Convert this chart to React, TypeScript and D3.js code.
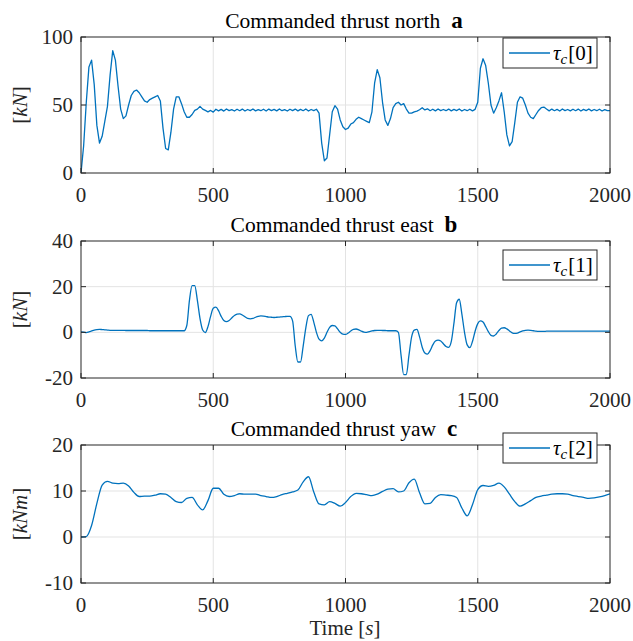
import React from 'react';
import * as d3 from 'd3';

// ---------- data ----------
const TIME_MAX = 2000;
const X_TICKS = [0, 500, 1000, 1500, 2000];

// Commanded thrust north [kN], sampled every 10 s (rows of 100 s)
const NORTH_STEP = 10;
const NORTH = [
  0, 20, 52, 78, 83, 65, 35, 22, 27, 38,
  49, 72, 90, 83, 64, 47, 40, 42, 50, 57,
  60, 61, 59, 56, 53, 52, 54, 55, 56, 57,
  53, 33, 18, 17, 30, 47, 56, 56, 51, 45,
  41, 41, 43, 46, 47, 49, 47, 46, 45, 46,
  44.8, 46.9, 45.7, 46.8, 45.5, 47.1, 45.9, 46.6, 45.6, 46.9,
  45.8, 47.0, 45.6, 46.7, 45.9, 47.1, 45.7, 46.6, 45.8, 46.9,
  45.6, 47.0, 45.9, 46.8, 45.7, 47.1, 45.8, 46.6, 45.6, 46.9,
  45.9, 47.0, 45.7, 46.8, 45.8, 47.1, 45.6, 46.7, 45.9, 46.9,
  44, 22, 9, 11, 28, 45, 49.5, 47, 39, 34,
  32, 33, 36, 37, 39.5, 41, 40, 39, 38, 37,
  45, 66, 76, 70, 52, 39, 35, 40, 48, 51,
  52, 50, 51, 47, 44, 44, 45, 45.5, 46.5, 48,
  46.4, 47.2, 45.8, 46.9, 45.7, 47.1, 45.9, 46.7, 45.8, 47.0,
  45.7, 46.8, 45.9, 47.1, 45.6, 46.7, 45.8, 46.9, 45.7, 46.8,
  52, 77, 84, 79, 66, 50, 44, 48, 53, 59,
  45, 28, 20, 23, 37, 52, 56, 55, 50, 44,
  41, 40, 43, 46, 48, 48.5, 47, 45.7, 47.0, 45.8,
  46.8, 45.6, 47.1, 45.9, 46.7, 45.7, 46.9, 45.8, 47.0, 45.6,
  46.8, 45.9, 47.1, 45.7, 46.7, 45.8, 46.9, 45.6, 46.6, 45.8,
  45.8,
];

// Commanded thrust east [kN], sampled every 10 s
const EAST_STEP = 10;
const EAST = [
  0.2, 0.1, -0.1, 0.2, 0.6, 1.0, 1.2, 1.3, 1.2, 1.1,
  1.0, 0.9, 0.9, 0.9, 0.9, 0.9, 0.9, 0.8, 0.8, 0.8,
  0.8, 0.8, 0.8, 0.8, 0.8, 0.8, 0.7, 0.7, 0.7, 0.7,
  0.7, 0.7, 0.7, 0.7, 0.7, 0.7, 0.7, 0.7, 0.7, 0.7,
  3, 14, 20.5, 20.5, 14, 6, 1, -0.1, 2.5, 7,
  10.5, 11, 9.5, 7, 5.2, 4.7, 5.2, 6.3, 7.4, 8,
  8.1, 7.6, 6.8, 6.1, 5.9, 6.1, 6.6, 7.0, 7.2, 7.1,
  6.9, 6.7, 6.6, 6.5, 6.6, 6.7, 6.8, 6.9, 7.0, 7.0,
  5, -6, -13, -13, -6, 2, 7.3, 7.9, 4.5, 0,
  -3, -3.7, -2.5, 0, 2.2, 3.0, 2.8, 1.5, 0, -0.8,
  -0.9, -0.3, 0.6, 1.3, 1.45, 1.1, 0.5, 0.1, 0, 0.3,
  0.6, 0.8, 0.9, 0.9, 0.8, 0.8, 0.7, 0.7, 0.7, 0.7,
  0, -10, -18.5, -18.5, -10, -2, 1.0, 1.3, -2, -6.5,
  -9, -9.5, -8, -5.5, -3.8, -3.4, -3.8, -5, -6.2, -6.6,
  -4, 4, 13, 14.5, 8, 0, -5.5, -6.7, -4, 0.5,
  3.8, 5.0, 4.5, 2.5, 0.3, -1.3, -1.6, -0.7, 0.8, 1.8,
  2.0, 1.5, 0.6, -0.2, -0.45, -0.3, 0.2, 0.6, 0.9, 1.0,
  0.9, 0.7, 0.5, 0.4, 0.4, 0.4, 0.5, 0.5, 0.5, 0.5,
  0.5, 0.5, 0.5, 0.5, 0.5, 0.5, 0.5, 0.5, 0.5, 0.5,
  0.5, 0.5, 0.5, 0.5, 0.5, 0.5, 0.5, 0.5, 0.5, 0.5,
  0.5,
];

// Commanded thrust yaw [kNm], sampled every 20 s
const YAW_STEP = 20;
const YAW = [
  0, 0.1, 2.5, 7.3, 11.3,
  12.1, 11.7, 11.6, 11.7, 11.1,
  9.7, 8.8, 8.9, 8.9, 9.1,
  9.4, 9.3, 8.6, 7.7, 7.5,
  8.4, 8.6, 7.0, 5.9, 7.9,
  10.6, 10.6, 9.3, 8.8, 9.0,
  9.4, 9.3, 9.3, 9.3, 9.0,
  8.8, 8.6, 8.8, 9.2, 9.5,
  9.8, 10.2, 12.0, 13.1, 9.8,
  7.2, 7.0, 7.7, 7.3, 6.7,
  7.5, 8.8, 9.5, 9.4, 9.2,
  9.0, 9.3, 9.9, 10.4, 10.5,
  9.8, 10.0, 11.8, 12.6, 9.6,
  7.2, 7.3, 8.6, 9.2, 9.1,
  9.0, 8.6, 6.3, 4.6, 7.0,
  10.3, 11.2, 11.0, 11.2, 11.7,
  10.9, 9.3, 7.7, 6.7, 7.2,
  7.9, 8.6, 8.9, 9.1, 9.3,
  9.4, 9.4, 9.3, 9.0, 8.8,
  8.6, 8.4, 8.5, 8.7, 9.0,
  9.4,
];

const NORTH_TICKS = [0, 50, 100];
const EAST_TICKS = [-20, 0, 20, 40];
const YAW_TICKS = [-10, 0, 10, 20];

const TITLES = ['Commanded thrust north', 'Commanded thrust east', 'Commanded thrust yaw'];
const LETTERS = ['a', 'b', 'c'];
const LEGEND_INDEX = ['0', '1', '2'];
const UNITS = ['kN', 'kN', 'kNm'];

// ---------- layout ----------
const W = 633;
const H = 641;
const LEFT = 81;
const RIGHT = 610;
const FONT = "'Liberation Serif', 'Times New Roman', serif";
const FS = 21;
const TEXT = '#262626';
const LINE = '#0072BD';
const GRID = '#e3e3e3';

const panels = [
  { values: NORTH, step: NORTH_STEP, ticks: NORTH_TICKS, top: 37, bottom: 173, legendTop: 38, curve: d3.curveLinear },
  { values: EAST, step: EAST_STEP, ticks: EAST_TICKS, top: 241, bottom: 378, legendTop: 250, curve: d3.curveMonotoneX },
  { values: YAW, step: YAW_STEP, ticks: YAW_TICKS, top: 445, bottom: 583, legendTop: 433, curve: d3.curveMonotoneX },
];

const x = d3.scaleLinear().domain([0, TIME_MAX]).range([LEFT, RIGHT]);

function Panel({ p, i }: { p: any; i: number }) {
  const ticks: number[] = p.ticks;
  const y = d3.scaleLinear().domain([ticks[0], ticks[ticks.length - 1]]).range([p.bottom, p.top]);
  const line = d3
    .line<number>()
    .x((_, k) => x(k * p.step))
    .y((v) => y(v))
    .curve(p.curve);
  const clipId = `clip${i}`;
  const tl = 5;
  const lgLeft = 503;
  const lgRight = 597;
  const lgH = 30;
  const lgMid = p.legendTop + lgH / 2;
  const midY = (p.top + p.bottom) / 2;
  return (
    <g>
      <defs>
        <clipPath id={clipId}>
          <rect x={LEFT} y={p.top} width={RIGHT - LEFT} height={p.bottom - p.top} />
        </clipPath>
      </defs>
      <rect x={LEFT} y={p.top} width={RIGHT - LEFT} height={p.bottom - p.top} fill="#fff" />
      {X_TICKS.slice(1, -1).map((t) => (
        <line key={'gx' + t} x1={x(t)} x2={x(t)} y1={p.top} y2={p.bottom} stroke={GRID} strokeWidth={1} />
      ))}
      {ticks.slice(1, -1).map((t) => (
        <line key={'gy' + t} x1={LEFT} x2={RIGHT} y1={y(t)} y2={y(t)} stroke={GRID} strokeWidth={1} />
      ))}
      <path d={line(p.values) || ''} fill="none" stroke={LINE} strokeWidth={1.3} clipPath={`url(#${clipId})`} strokeLinejoin="round" />
      <rect x={LEFT} y={p.top} width={RIGHT - LEFT} height={p.bottom - p.top} fill="none" stroke={TEXT} strokeWidth={1} />
      {X_TICKS.map((t) => (
        <g key={'tx' + t}>
          <line x1={x(t)} x2={x(t)} y1={p.bottom} y2={p.bottom - tl} stroke={TEXT} />
          <line x1={x(t)} x2={x(t)} y1={p.top} y2={p.top + tl} stroke={TEXT} />
          <text x={x(t)} y={p.bottom + 29} textAnchor="middle" fontSize={FS} fill={TEXT}>
            {t}
          </text>
        </g>
      ))}
      {ticks.map((t) => (
        <g key={'ty' + t}>
          <line x1={LEFT} x2={LEFT + tl} y1={y(t)} y2={y(t)} stroke={TEXT} />
          <line x1={RIGHT} x2={RIGHT - tl} y1={y(t)} y2={y(t)} stroke={TEXT} />
          <text x={LEFT - 8} y={y(t) + 7} textAnchor="end" fontSize={FS} fill={TEXT}>
            {t}
          </text>
        </g>
      ))}
      <text x={344} y={p.top - 9} textAnchor="middle" fontSize={21.5} fill="#000">
        <tspan>{TITLES[i]}</tspan>
        <tspan fontWeight="bold" fontSize={23} dx={11}>{LETTERS[i]}</tspan>
      </text>
      <text transform={`translate(27,${midY}) rotate(-90)`} textAnchor="middle" fontSize={FS} fill={TEXT}>
        <tspan>[</tspan>
        <tspan fontStyle="italic">{UNITS[i]}</tspan>
        <tspan>]</tspan>
      </text>
      <rect x={lgLeft} y={p.legendTop} width={lgRight - lgLeft} height={lgH} fill="#fff" stroke={TEXT} strokeWidth={1} />
      <line x1={509} x2={550} y1={lgMid} y2={lgMid} stroke={LINE} strokeWidth={1.3} />
      <text x={553} y={lgMid + 7} fontSize={FS} fill="#000">
        <tspan fontStyle="italic">τ</tspan>
        <tspan fontStyle="italic" fontSize={15} dy={4}>c</tspan>
        <tspan dy={-4} dx={1}>[{LEGEND_INDEX[i]}]</tspan>
      </text>
    </g>
  );
}

export default function App() {
  return (
    <svg
      width={W}
      height={H}
      viewBox={`0 0 ${W} ${H}`}
      style={{ position: 'absolute', left: 0, top: 0, background: '#fff' }}
      fontFamily={FONT}
    >
      <rect x={0} y={0} width={W} height={H} fill="#fff" />
      {panels.map((p, i) => (
        <Panel key={i} p={p} i={i} />
      ))}
      <text x={345} y={635} textAnchor="middle" fontSize={FS} fill={TEXT}>
        <tspan>Time [</tspan>
        <tspan fontStyle="italic">s</tspan>
        <tspan>]</tspan>
      </text>
    </svg>
  );
}
